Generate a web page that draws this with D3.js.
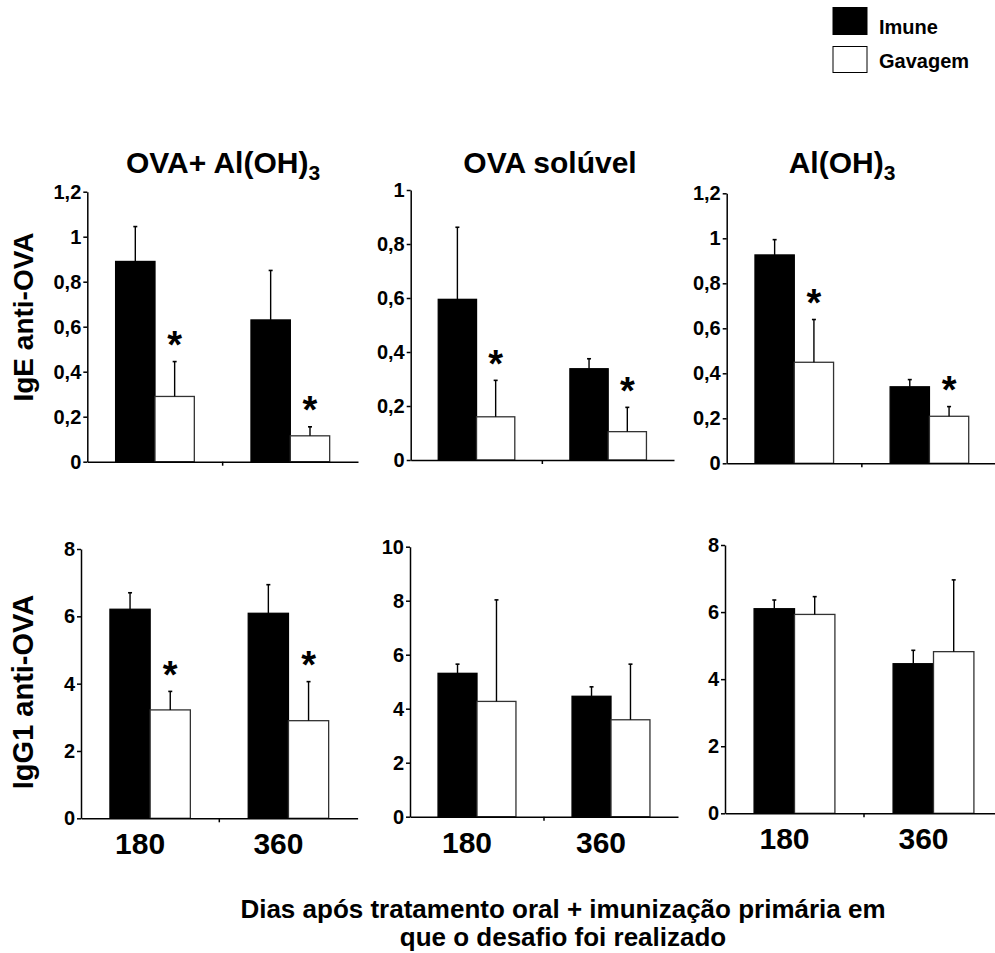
<!DOCTYPE html>
<html>
<head>
<meta charset="utf-8">
<script src="https://cdn.jsdelivr.net/npm/d3@7"></script>
<style>
  html, body { margin: 0; padding: 0; background: #fff; }
  svg { display: block; font-family: "Liberation Sans", Arial, Helvetica, sans-serif; font-weight: bold; }
  svg text { font-family: "Liberation Sans", Arial, Helvetica, sans-serif; font-weight: bold; }
</style>
</head>
<body>
<svg id="chart" width="995" height="953"></svg>
<script>
// ---------------- DATA ----------------
const days = ["180", "360"];
const series = ["Imune", "Gavagem"];
const panelTitles = ["OVA+ Al(OH)", "OVA solúvel", "Al(OH)"];
const panelTitleSubs = ["3", "", "3"];
const rowLabels = ["IgE anti-OVA", "IgG1 anti-OVA"];

// IgE anti-OVA (top row), one inner array per panel: [180, 360]
const igeImune      = [[0.89, 0.63], [0.595, 0.338], [0.926, 0.34]];
const igeImuneSem   = [[0.155, 0.22], [0.267, 0.037], [0.068, 0.032]];
const igeGavagem    = [[0.29, 0.115], [0.16, 0.105], [0.449, 0.209]];
const igeGavagemSem = [[0.155, 0.04], [0.135, 0.09], [0.19, 0.043]];
const igeSignif     = [[true, true], [true, true], [true, true]];
const igeTicks      = [[0, 0.2, 0.4, 0.6, 0.8, 1, 1.2], [0, 0.2, 0.4, 0.6, 0.8, 1], [0, 0.2, 0.4, 0.6, 0.8, 1, 1.2]];

// IgG1 anti-OVA (bottom row)
const iggImune      = [[6.21, 6.09], [5.31, 4.46], [6.10, 4.46]];
const iggImuneSem   = [[0.49, 0.85], [0.34, 0.35], [0.26, 0.40]];
const iggGavagem    = [[3.22, 2.90], [4.27, 3.59], [5.93, 4.82]];
const iggGavagemSem = [[0.55, 1.16], [3.76, 2.06], [0.53, 2.14]];
const iggSignif     = [[true, true], [false, false], [false, false]];
const iggTicks      = [[0, 2, 4, 6, 8], [0, 2, 4, 6, 8, 10], [0, 2, 4, 6, 8]];

const xTitleLines = ["Dias após tratamento oral + imunização primária em", "que o desafio foi realizado"];

// ---------------- LAYOUT ----------------
const topLayout = [
  { left: 87.3, right: 358, y0: 461.7, yTop: 191.7, titleX: 223 },
  { left: 410.7, right: 674, y0: 460, yTop: 190, titleX: 550 },
  { left: 726.7, right: 997, y0: 463.3, yTop: 193.3, titleX: 842 }
];
const botLayout = [
  { left: 81, right: 357.6, y0: 818.3, yTop: 549 },
  { left: 410, right: 678, y0: 816.7, yTop: 546.7 },
  { left: 725, right: 1003, y0: 813.3, yTop: 545 }
];

const svg = d3.select("#chart");
const fmt = v => String(v).replace(".", ",");

function drawPanel(L, imune, imuneSem, gav, gavSem, signif, ticks, showX) {
  const g = svg.append("g");
  const x0 = d3.scaleBand().domain(days).range([L.left, L.right]).paddingInner(0).paddingOuter(0);
  const x1 = d3.scaleBand().domain(series).range([0, x0.bandwidth()]).paddingInner(0).paddingOuter(0.72);
  const y = d3.scaleLinear().domain([0, d3.max(ticks)]).range([L.y0, L.yTop]);

  const rows = days.map((d, i) => ({
    day: d,
    vals: [
      { s: "Imune", v: imune[i], e: imuneSem[i], sig: false },
      { s: "Gavagem", v: gav[i], e: gavSem[i], sig: signif[i] }
    ]
  }));

  const grp = g.selectAll("g.day").data(rows).join("g")
    .attr("transform", d => `translate(${x0(d.day)},0)`);

  const bar = grp.selectAll("g.bar").data(d => d.vals).join("g");
  bar.append("rect")
    .attr("x", d => x1(d.s))
    .attr("y", d => y(d.v))
    .attr("width", x1.bandwidth())
    .attr("height", d => y(0) - y(d.v))
    .attr("fill", d => d.s === "Imune" ? "#000" : "#fff")
    .attr("stroke", d => d.s === "Imune" ? "#000" : "#333")
    .attr("stroke-width", 1.3);
  bar.append("line")
    .attr("x1", d => x1(d.s) + x1.bandwidth() / 2)
    .attr("x2", d => x1(d.s) + x1.bandwidth() / 2)
    .attr("y1", d => y(d.v))
    .attr("y2", d => y(d.v + d.e))
    .attr("stroke", "#000").attr("stroke-width", 1.4);
  bar.append("line")
    .attr("x1", d => x1(d.s) + x1.bandwidth() / 2 - 2)
    .attr("x2", d => x1(d.s) + x1.bandwidth() / 2 + 2)
    .attr("y1", d => y(d.v + d.e))
    .attr("y2", d => y(d.v + d.e))
    .attr("stroke", "#000").attr("stroke-width", 1.6);
  const fs = 38;
  bar.filter(d => d.sig).append("text")
    .attr("x", d => x1(d.s) + x1.bandwidth() / 2)
    .attr("y", d => y(d.v + d.e) - 25 + 0.57 * fs)
    .attr("text-anchor", "middle")
    .attr("font-size", fs)
    .text("*");

  // y axis
  const yAxis = d3.axisLeft(y).tickValues(ticks).tickSize(4).tickSizeOuter(0).tickFormat(fmt);
  const ya = g.append("g").attr("transform", `translate(${L.left},0)`).call(yAxis)
    .attr("font-family", null).attr("font-size", null);
  ya.select(".domain").attr("stroke", "#000").attr("stroke-width", 1.5);
  ya.selectAll(".tick line").attr("stroke", "#000").attr("stroke-width", 1.5);
  ya.selectAll(".tick text").style("font-size", "20px").attr("fill", "#000").attr("x", -6);

  // x axis
  const xAxis = d3.axisBottom(x0).tickSize(0).tickSizeOuter(0).tickFormat(showX ? null : () => "");
  const xa = g.append("g").attr("transform", `translate(0,${L.y0})`).call(xAxis)
    .attr("font-family", null).attr("font-size", null);
  xa.select(".domain").attr("stroke", "#000").attr("stroke-width", 1.5);
  xa.selectAll(".tick text").style("font-size", "30px").attr("fill", "#000")
    .attr("dx", -10).attr("dy", "1.1em");
  xa.append("line")
    .attr("x1", x0("360")).attr("x2", x0("360"))
    .attr("y1", 0).attr("y2", 4)
    .attr("stroke", "#000").attr("stroke-width", 1.5);
  return g;
}

topLayout.forEach((L, p) => {
  drawPanel(L, igeImune[p], igeImuneSem[p], igeGavagem[p], igeGavagemSem[p], igeSignif[p], igeTicks[p], false);
  const t = svg.append("text").attr("x", L.titleX).attr("y", 173)
    .attr("text-anchor", "middle").attr("font-size", 30).text(panelTitles[p]);
  if (panelTitleSubs[p]) {
    t.append("tspan").attr("font-size", 21).attr("dy", 7).text(panelTitleSubs[p]);
  }
});
botLayout.forEach((L, p) => {
  drawPanel(L, iggImune[p], iggImuneSem[p], iggGavagem[p], iggGavagemSem[p], iggSignif[p], iggTicks[p], true);
});

// row labels
svg.append("text").attr("transform", "translate(33,317) rotate(-90)")
  .attr("text-anchor", "middle").attr("font-size", 28).text(rowLabels[0]);
svg.append("text").attr("transform", "translate(33,692) rotate(-90)")
  .attr("text-anchor", "middle").attr("font-size", 29).text(rowLabels[1]);

// x title
svg.append("text").attr("x", 563).attr("y", 918).attr("text-anchor", "middle")
  .attr("font-size", 26).text(xTitleLines[0]);
svg.append("text").attr("x", 563).attr("y", 946).attr("text-anchor", "middle")
  .attr("font-size", 26).text(xTitleLines[1]);

// legend
const legend = svg.append("g");
series.forEach((s, i) => {
  legend.append("rect").attr("x", 833).attr("y", i === 0 ? 7.5 : 46.5)
    .attr("width", 34).attr("height", i === 0 ? 27 : 26)
    .attr("fill", i === 0 ? "#000" : "#fff").attr("stroke", "#000").attr("stroke-width", 1);
  legend.append("text").attr("x", 879).attr("y", i === 0 ? 34 : 68)
    .attr("font-size", 20).text(s);
});
</script>
</body>
</html>
